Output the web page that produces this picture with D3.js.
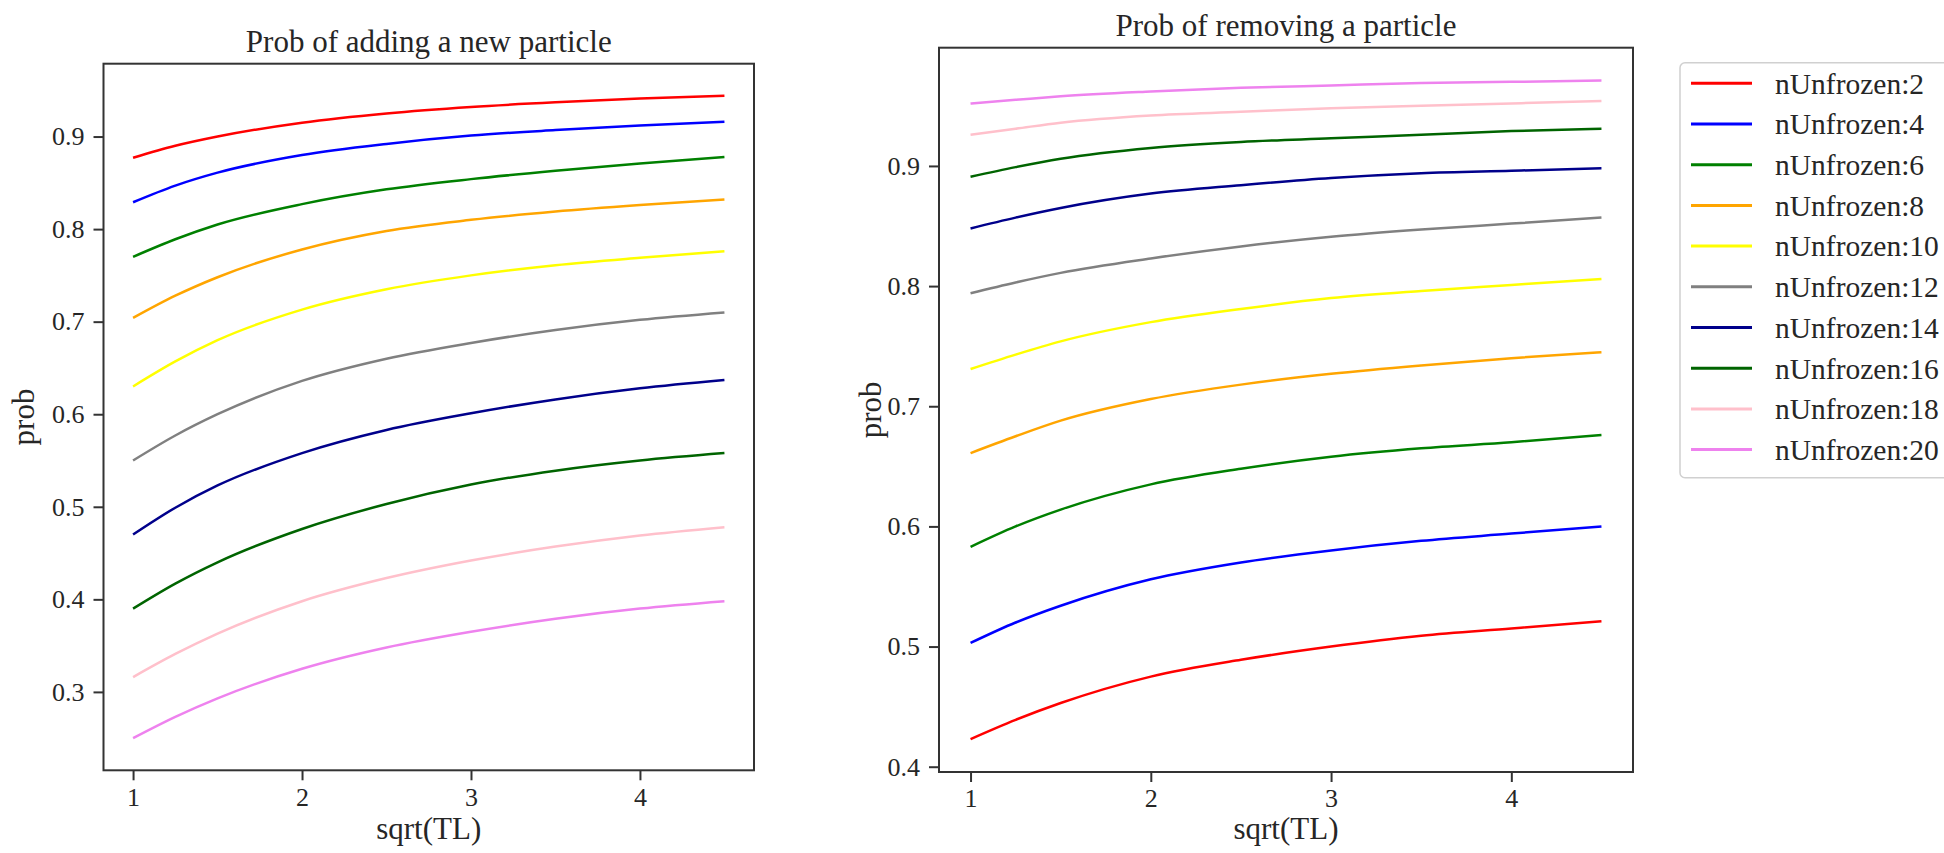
<!DOCTYPE html>
<html>
<head>
<meta charset="utf-8">
<script src="https://cdn.jsdelivr.net/npm/d3@7"></script>
<style>
  body { margin: 0; background: #fff; }
  svg text { font-family: "Liberation Serif", "Times New Roman", serif; fill: #262626; }
</style>
</head>
<body>
<div id="chart"></div>
<script>
// sqrt(TL) sample points
const xValues = [1, 1.25, 1.5, 2, 2.5, 3, 3.5, 4, 4.5];

const seriesNames = [
  "nUnfrozen:2", "nUnfrozen:4", "nUnfrozen:6", "nUnfrozen:8", "nUnfrozen:10",
  "nUnfrozen:12", "nUnfrozen:14", "nUnfrozen:16", "nUnfrozen:18", "nUnfrozen:20"
];

const seriesColors = [
  "red", "blue", "green", "orange", "yellow",
  "gray", "darkblue", "darkgreen", "pink", "violet"
];

// Prob of adding a new particle, one row per series
const addProb = [
  [0.877, 0.890, 0.900, 0.915, 0.925, 0.932, 0.937, 0.941, 0.944],
  [0.829, 0.847, 0.861, 0.880, 0.892, 0.901, 0.907, 0.912, 0.916],
  [0.770, 0.789, 0.805, 0.827, 0.843, 0.854, 0.863, 0.871, 0.878],
  [0.704, 0.728, 0.748, 0.778, 0.798, 0.810, 0.819, 0.826, 0.832],
  [0.630, 0.657, 0.680, 0.713, 0.735, 0.750, 0.761, 0.769, 0.776],
  [0.550, 0.577, 0.600, 0.636, 0.660, 0.677, 0.691, 0.702, 0.710],
  [0.470, 0.499, 0.523, 0.558, 0.583, 0.601, 0.616, 0.628, 0.637],
  [0.390, 0.417, 0.440, 0.476, 0.503, 0.524, 0.539, 0.550, 0.558],
  [0.316, 0.341, 0.363, 0.398, 0.423, 0.442, 0.457, 0.469, 0.478],
  [0.250, 0.273, 0.293, 0.325, 0.348, 0.365, 0.379, 0.390, 0.398]
];

// Prob of removing a particle, one row per series
const removeProb = [
  [0.423, 0.439, 0.453, 0.475, 0.489, 0.500, 0.509, 0.515, 0.521],
  [0.503, 0.520, 0.534, 0.556, 0.570, 0.580, 0.588, 0.594, 0.600],
  [0.583, 0.600, 0.614, 0.635, 0.648, 0.658, 0.665, 0.670, 0.676],
  [0.661, 0.675, 0.688, 0.706, 0.718, 0.727, 0.734, 0.740, 0.745],
  [0.731, 0.743, 0.754, 0.770, 0.781, 0.790, 0.796, 0.801, 0.806],
  [0.794, 0.803, 0.811, 0.823, 0.833, 0.841, 0.847, 0.852, 0.857],
  [0.848, 0.857, 0.865, 0.877, 0.884, 0.890, 0.894, 0.896, 0.898],
  [0.891, 0.899, 0.906, 0.915, 0.920, 0.923, 0.926, 0.929, 0.931],
  [0.926, 0.931, 0.936, 0.942, 0.945, 0.948, 0.950, 0.952, 0.954],
  [0.952, 0.955, 0.958, 0.962, 0.965, 0.967, 0.969, 0.970, 0.971]
];

const xTicks = [1, 2, 3, 4];
const addTicks = [0.3, 0.4, 0.5, 0.6, 0.7, 0.8, 0.9];
const removeTicks = [0.4, 0.5, 0.6, 0.7, 0.8, 0.9];

const svg = d3.select("#chart")
  .append("svg")
  .attr("width", 1944)
  .attr("height", 853);

// matplotlib-like 5% padding
function padded(min, max) {
  const pad = (max - min) * 0.05;
  return [min - pad, max + pad];
}

function drawPanel(box, title, rows, yTicks) {
  const g = svg.append("g");

  const xScale = d3.scaleLinear()
    .domain(padded(d3.min(xValues), d3.max(xValues)))
    .range([box.left, box.right]);

  const yScale = d3.scaleLinear()
    .domain(padded(d3.min(rows, r => d3.min(r)), d3.max(rows, r => d3.max(r))))
    .range([box.bottom, box.top]);

  const line = d3.line()
    .curve(d3.curveMonotoneX)
    .x((d, i) => xScale(xValues[i]))
    .y(d => yScale(d));

  g.selectAll(".series")
    .data(rows)
    .enter()
    .append("path")
    .attr("class", "series")
    .attr("fill", "none")
    .attr("stroke", (d, i) => seriesColors[i])
    .attr("stroke-width", 2.5)
    .attr("d", line);

  // frame
  g.append("rect")
    .attr("x", box.left)
    .attr("y", box.top)
    .attr("width", box.right - box.left)
    .attr("height", box.bottom - box.top)
    .attr("fill", "none")
    .attr("stroke", "#333")
    .attr("stroke-width", 2);

  const xAxis = g.append("g")
    .attr("transform", `translate(0,${box.bottom})`)
    .call(d3.axisBottom(xScale).tickValues(xTicks).tickSize(10).tickPadding(7).tickFormat(d3.format("d")));

  const yAxis = g.append("g")
    .attr("transform", `translate(${box.left},0)`)
    .call(d3.axisLeft(yScale).tickValues(yTicks).tickSize(10).tickPadding(9).tickFormat(d3.format(".1f")));

  [xAxis, yAxis].forEach(ax => {
    ax.attr("font-family", null).attr("font-size", null);
    ax.select(".domain").remove();
    ax.selectAll(".tick line").attr("stroke", "#333").attr("stroke-width", 2);
    ax.selectAll(".tick text")
      .style("font-size", "26px")
      .attr("fill", "#262626");
  });

  const cx = (box.left + box.right) / 2;

  g.append("text")
    .attr("x", cx)
    .attr("y", box.top - 12)
    .attr("text-anchor", "middle")
    .style("font-size", "31px")
    .text(title);

  g.append("text")
    .attr("x", cx)
    .attr("y", 839)
    .attr("text-anchor", "middle")
    .style("font-size", "31px")
    .text("sqrt(TL)");

  g.append("text")
    .attr("transform", `translate(${box.left - box.labelGap},${(box.top + box.bottom) / 2}) rotate(-90)`)
    .attr("text-anchor", "middle")
    .style("font-size", "31px")
    .text("prob");
}

drawPanel({ left: 103.5, right: 754, top: 63.7, bottom: 770.3, labelGap: 70 },
  "Prob of adding a new particle", addProb, addTicks);

drawPanel({ left: 939, right: 1633, top: 47.7, bottom: 772, labelGap: 58 },
  "Prob of removing a particle", removeProb, removeTicks);

// Legend
const legend = svg.append("g").attr("transform", "translate(1680,62.7)");

legend.append("rect")
  .attr("x", 0)
  .attr("y", 0)
  .attr("width", 290)
  .attr("height", 415)
  .attr("rx", 5)
  .attr("fill", "#fff")
  .attr("stroke", "#d0d0d0")
  .attr("stroke-width", 1.5);

const items = legend.selectAll(".item")
  .data(seriesNames)
  .enter()
  .append("g")
  .attr("class", "item")
  .attr("transform", (d, i) => `translate(0,${20.6 + i * 40.7})`);

items.append("line")
  .attr("x1", 11)
  .attr("x2", 72)
  .attr("stroke", (d, i) => seriesColors[i])
  .attr("stroke-width", 3);

items.append("text")
  .attr("x", 95)
  .attr("dy", "0.35em")
  .style("font-size", "29.5px")
  .text(d => d);
</script>
</body>
</html>
